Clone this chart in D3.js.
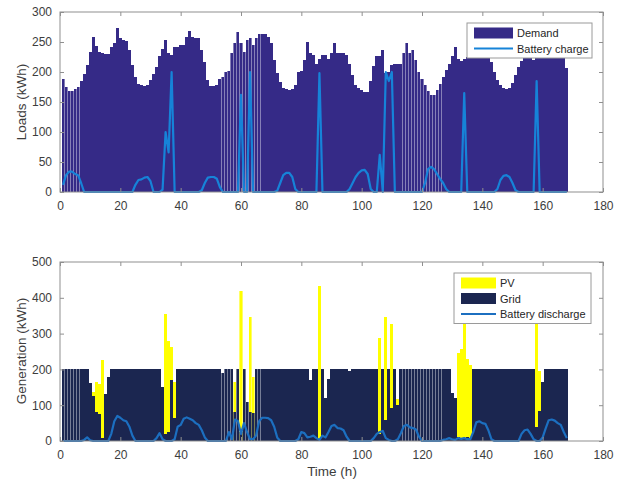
<!DOCTYPE html>
<html>
<head>
<meta charset="utf-8">
<script src="https://cdn.jsdelivr.net/npm/d3@7"></script>
<style>
    body { margin: 0; background: #fff; }
    text { font-family: "Liberation Sans", Arial, Helvetica, sans-serif; }
</style>
</head>
<body>
<div id="chart-area"></div>
<script>
// hourly values, one row per day (24 h)
var demand = [
    189,175,169,168,171,175,185,196,212,234,258,244,234,232,230,230,242,248,274,256,254,252,236,212,
    192,180,178,177,178,186,196,208,226,238,253,231,228,242,242,245,245,259,268,259,256,256,237,217,
    187,177,177,178,188,192,200,202,231,248,267,248,234,253,256,245,256,263,263,263,258,248,220,198,
    184,173,172,170,172,178,200,202,220,250,232,228,214,222,228,228,222,232,248,231,231,231,228,214,
    195,178,173,170,166,166,185,210,226,226,236,198,200,212,214,214,214,231,248,231,236,220,200,189,
    178,168,162,162,170,180,192,204,214,226,242,222,218,222,225,248,252,256,258,254,248,236,217,200,
    187,178,173,172,174,182,195,208,218,232,242,246,220,250,248,242,252,256,258,254,248,242,226,207
];
var batteryCharge = [
    12,28,34,34,30,28,15,0,0,0,0,0,0,0,0,0,0,0,0,0,0,0,0,0,
    12,20,21,24,25,18,0,0,0,4,100,66,200,0,0,0,0,0,0,0,0,0,3,15,
    24,25,25,22,8,0,0,0,0,0,0,162,0,0,200,0,0,0,0,0,0,0,0,2,
    15,28,32,32,25,5,0,0,0,0,0,0,0,198,0,0,0,0,0,0,0,0,0,5,
    15,25,32,36,37,30,5,0,0,62,0,200,185,200,0,0,0,0,0,0,0,0,0,0,
    15,38,42,38,30,22,15,5,0,0,0,0,0,165,0,0,0,0,0,0,0,0,0,0,
    5,20,27,28,25,15,3,0,0,0,0,0,0,185,0,0,0,0,0,0,0,0,0,0
];
var pv = [
    0,0,0,0,0,0,0,0,0,0,138,165,158,225,0,0,0,0,0,0,0,0,0,0,
    0,0,0,0,0,0,0,0,0,0,355,278,262,165,0,0,0,0,0,0,0,0,0,0,
    0,0,0,0,0,0,0,0,0,166,0,418,0,0,345,180,0,0,0,0,0,0,0,0,
    0,0,0,0,0,0,0,0,0,0,0,0,0,432,0,0,0,0,0,0,0,0,0,0,
    0,0,0,0,0,0,0,0,0,287,0,346,0,326,0,116,0,0,0,0,0,0,0,0,
    0,0,0,0,0,0,0,0,0,0,0,245,258,360,228,212,0,0,0,0,0,0,0,0,
    0,0,0,0,0,0,0,0,0,0,0,0,0,340,195,0,0,0,0,0,0,0,0,0
];
var grid = [
    200,200,200,200,200,200,200,200,200,162,126,82,75,8,132,180,200,200,200,200,200,200,200,200,
    200,200,200,200,200,200,200,200,200,150,20,25,170,65,200,200,200,200,200,200,200,200,200,200,
    200,200,200,200,200,190,200,200,200,82,200,25,200,110,80,78,200,200,200,200,200,200,200,200,
    200,200,200,200,200,200,200,200,200,200,170,200,200,5,200,120,172,200,200,200,200,200,200,195,
    200,200,200,200,200,200,200,200,200,20,200,58,200,93,200,100,200,200,200,200,200,200,200,200,
    200,200,200,200,200,200,200,200,200,135,121,10,5,5,10,8,200,200,200,200,200,200,200,200,
    200,200,200,200,200,200,200,200,200,200,200,200,200,40,85,165,200,200,200,200,200,200,200,200
];
var batteryDischarge = [
    0,0,0,0,0,0,0,3,10,2,0,0,0,0,0,0,20,55,70,65,58,55,40,15,
    0,0,0,0,0,0,0,8,22,5,0,0,0,5,40,45,62,66,62,58,50,45,30,10,
    0,0,0,0,0,0,0,25,5,60,55,20,50,25,5,5,15,55,65,65,64,58,40,10,
    0,0,0,0,0,0,5,25,22,10,12,15,8,3,15,10,25,42,45,36,35,30,12,0,
    0,0,0,0,0,0,0,8,20,25,28,8,3,0,0,5,22,42,45,38,36,32,12,0,
    0,0,0,0,0,0,3,5,8,5,3,8,6,8,5,5,25,52,55,50,48,30,5,0,
    0,0,0,0,0,0,0,0,20,30,32,20,5,0,0,10,35,58,60,57,50,45,25,8
];
var hours = demand.map(function(d, i){ return i + 1; });

var xTicks = [0, 20, 40, 60, 80, 100, 120, 140, 160, 180];
var loadTicks = [0, 50, 100, 150, 200, 250, 300];
var genTicks = [0, 100, 200, 300, 400, 500];

var width = 625, height = 479;
var left = 60, right = 603;
var boxColor = "#8f8f8f", textColor = "#3d3d3d";

var svg = d3.select("#chart-area")
    .append("svg")
    .attr("width", width)
    .attr("height", height);

var x = d3.scaleLinear().domain([0, 180]).range([left, right]);
var barW = 0.92;

function drawAxes(y, yTicks, yTitle, titleY) {
    var g = svg.append("g");
    g.append("g")
        .attr("transform", "translate(0," + y.range()[0] + ")")
        .call(d3.axisBottom(x).tickValues(xTicks).tickSizeInner(-4).tickSizeOuter(0).tickPadding(9));
    g.append("g")
        .attr("transform", "translate(0," + y.range()[1] + ")")
        .call(d3.axisTop(x).tickValues(xTicks).tickSizeInner(-4).tickSizeOuter(0).tickFormat(""));
    g.append("g")
        .attr("transform", "translate(" + left + ",0)")
        .call(d3.axisLeft(y).tickValues(yTicks).tickSizeInner(-4).tickSizeOuter(0).tickPadding(8));
    g.append("g")
        .attr("transform", "translate(" + right + ",0)")
        .call(d3.axisRight(y).tickValues(yTicks).tickSizeInner(-4).tickSizeOuter(0).tickFormat(""));
    g.selectAll(".domain").remove();
    g.selectAll(".tick line").attr("stroke", boxColor);
    g.selectAll(".tick text")
        .attr("fill", textColor)
        .attr("font-size", "12px")
        .attr("font-family", "Liberation Sans, Arial, sans-serif");
    g.append("rect")
        .attr("x", left)
        .attr("y", y.range()[1])
        .attr("width", right - left)
        .attr("height", y.range()[0] - y.range()[1])
        .attr("fill", "none")
        .attr("stroke", boxColor);
    g.append("text")
        .attr("transform", "translate(26," + titleY + ") rotate(-90)")
        .attr("text-anchor", "middle")
        .attr("font-size", "13.5px")
        .attr("fill", textColor)
        .text(yTitle);
}

function drawBars(values, y, color) {
    // faint full-width layer so the thin gaps read as light seams, not white
    svg.append("g")
        .attr("shape-rendering", "crispEdges")
        .selectAll("rect")
        .data(values)
        .enter()
        .append("rect")
        .attr("x", function(d, i){ return x(hours[i] - 0.5); })
        .attr("width", x(1) - x(0))
        .attr("y", function(d){ return y(d); })
        .attr("height", function(d){ return y(0) - y(d); })
        .attr("fill", color)
        .attr("opacity", 0.6);
    svg.append("g")
        .attr("shape-rendering", "crispEdges")
        .selectAll("rect")
        .data(values)
        .enter()
        .append("rect")
        .attr("x", function(d, i){ return x(hours[i] - barW / 2); })
        .attr("width", x(barW) - x(0))
        .attr("y", function(d){ return y(d); })
        .attr("height", function(d){ return y(0) - y(d); })
        .attr("fill", color);
}

function drawLine(values, y, color) {
    var line = d3.line()
        .x(function(d, i){ return x(hours[i]); })
        .y(function(d){ return y(d); });
    svg.append("path")
        .datum(values)
        .attr("d", line)
        .attr("fill", "none")
        .attr("stroke", color)
        .attr("stroke-width", 2.2)
        .attr("stroke-linejoin", "round");
}

function drawLegend(lx, ly, lw, items) {
    var lg = svg.append("g").attr("transform", "translate(" + lx + "," + ly + ")");
    lg.append("rect")
        .attr("width", lw)
        .attr("height", items.length * 15.5 + 4)
        .attr("fill", "#fff")
        .attr("stroke", "#9a9a9a");
    items.forEach(function(it, i){
        var cy = 10 + i * 15.5;
        if (it.type === "bar") {
            lg.append("rect")
                .attr("x", 7).attr("y", cy - 5.5)
                .attr("width", it.sw).attr("height", 11)
                .attr("fill", it.color);
        } else {
            lg.append("line")
                .attr("x1", 7).attr("x2", 7 + it.sw)
                .attr("y1", cy).attr("y2", cy)
                .attr("stroke", it.color)
                .attr("stroke-width", 2.2);
        }
        lg.append("text")
            .attr("x", 11 + it.sw)
            .attr("y", cy + 4)
            .attr("font-size", "11px")
            .attr("fill", "#262626")
            .text(it.label);
    });
}

// top panel: loads
var yLoad = d3.scaleLinear().domain([0, 300]).range([192, 12]);
drawBars(demand, yLoad, "#352a87");
drawLine(batteryCharge, yLoad, "#1683d8");
drawAxes(yLoad, loadTicks, "Loads (kWh)", 102);
drawLegend(467, 23, 125, [
    { type: "bar", label: "Demand", color: "#352a87", sw: 39 },
    { type: "line", label: "Battery charge", color: "#1683d8", sw: 39 }
]);

// bottom panel: generation
var yGen = d3.scaleLinear().domain([0, 500]).range([441, 262]);
drawBars(pv, yGen, "#ffff00");
drawBars(grid, yGen, "#1b2650");
drawLine(batteryDischarge, yGen, "#1c6fc0");
drawAxes(yGen, genTicks, "Generation (kWh)", 351);
drawLegend(454, 273, 137, [
    { type: "bar", label: "PV", color: "#ffff00", sw: 35 },
    { type: "bar", label: "Grid", color: "#1b2650", sw: 35 },
    { type: "line", label: "Battery discharge", color: "#1c6fc0", sw: 35 }
]);

svg.append("text")
    .attr("x", 332)
    .attr("y", 476)
    .attr("text-anchor", "middle")
    .attr("font-size", "13.5px")
    .attr("fill", textColor)
    .text("Time (h)");
</script>
</body>
</html>
